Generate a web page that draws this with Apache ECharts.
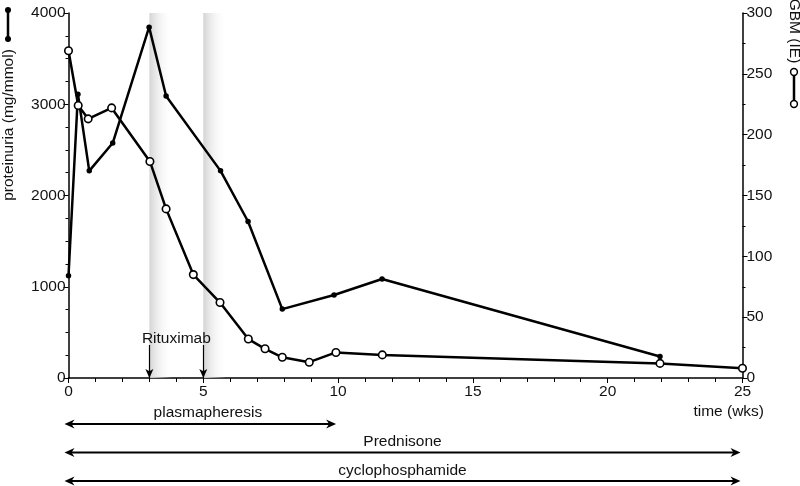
<!DOCTYPE html>
<html>
<head>
<meta charset="utf-8">
<script src="https://cdn.jsdelivr.net/npm/echarts@6/dist/echarts.min.js"></script>
<style>
  html, body { margin: 0; padding: 0; background: #fff; }
  #chart { width: 800px; height: 486px; }
</style>
</head>
<body>
<div id="chart"></div>
<script>
// proteinuria (mg/mmol), filled dots, left axis
const protWeeks = [0, 0.35, 0.77, 1.64, 2.99, 3.62, 5.64, 6.66, 7.93, 9.85, 11.63, 21.94]
const protValues = [1120, 3110, 2270, 2575, 3845, 3090, 2270, 1715, 755, 910, 1085, 235]

// GBM (IE), open circles, right axis
const gbmWeeks = [0, 0.36, 0.73, 1.6, 3.02, 3.62, 4.63, 5.62, 6.67, 7.29, 7.93, 8.93, 9.92, 11.64, 21.94, 25]
const gbmValues = [269, 224, 213, 222, 178, 139, 85, 62, 32, 24, 17, 13, 21, 19, 12, 8]

// rituximab doses (weeks), shaded after each dose
const rituximabWeeks = [3, 5]
const bandWidth = 0.85

// treatment periods (weeks)
const treatments = [
  { name: 'plasmapheresis', from: 0, to: 10 },
  { name: 'Prednisone', from: 0, to: 25 },
  { name: 'cyclophosphamide', from: 0, to: 25 }
]

const FONT = 'Liberation Sans'
const FS = 15.5

const chart = echarts.init(document.getElementById('chart'))

const axisCommon = {
  axisLine: { show: true, lineStyle: { color: '#000', width: 1.5 } },
  axisTick: { show: true, length: 5, lineStyle: { color: '#000', width: 1 } },
  axisLabel: { fontSize: FS, fontFamily: FONT, color: '#111', formatter: v => String(v) },
  splitLine: { show: false }
}

const option = {
  animation: false,
  backgroundColor: '#fff',
  grid: { left: 68.5, right: 57.5, top: 13, bottom: 108 },
  xAxis: {
    type: 'value', min: 0, max: 25, interval: 5,
    ...axisCommon,
    minorTick: { show: true, splitNumber: 5, length: 4, lineStyle: { color: '#000' } },
    axisLabel: { ...axisCommon.axisLabel, margin: 6 }
  },
  yAxis: [
    {
      type: 'value', min: 0, max: 4000, interval: 1000, position: 'left',
      ...axisCommon,
      minorTick: { show: true, splitNumber: 4, length: 3, lineStyle: { color: '#000' } },
      axisLabel: { ...axisCommon.axisLabel, margin: 3 }
    },
    {
      type: 'value', min: 0, max: 300, interval: 50, position: 'right',
      ...axisCommon,
      minorTick: { show: true, splitNumber: 2, length: 3, lineStyle: { color: '#000' } },
      axisLabel: { ...axisCommon.axisLabel, margin: 4 }
    }
  ],
  series: [
    {
      name: 'proteinuria',
      type: 'line',
      yAxisIndex: 0,
      data: protWeeks.map((w, i) => [w, protValues[i]]),
      symbol: 'circle',
      symbolSize: 5.5,
      showAllSymbol: true,
      lineStyle: { color: '#000', width: 2.5 },
      itemStyle: { color: '#000' },
      z: 3,
      markArea: {
        silent: true,
        itemStyle: {
          color: new echarts.graphic.LinearGradient(0, 0, 1, 0, [
            { offset: 0, color: 'rgba(212,212,212,1)' },
            { offset: 1, color: 'rgba(255,255,255,0)' }
          ])
        },
        data: rituximabWeeks.map(w => [{ xAxis: w }, { xAxis: w + bandWidth }])
      },
      markLine: {
        silent: true,
        symbol: ['none', 'arrow'],
        symbolSize: [6, 9],
        lineStyle: { color: '#000', width: 1.2, type: 'solid' },
        label: { show: false },
        data: rituximabWeeks.map(w => [{ coord: [w, 362] }, { coord: [w, 0] }])
      }
    },
    {
      name: 'GBM',
      type: 'line',
      yAxisIndex: 1,
      data: gbmWeeks.map((w, i) => [w, gbmValues[i]]),
      symbol: 'circle',
      symbolSize: 7.5,
      showAllSymbol: true,
      lineStyle: { color: '#000', width: 2.5 },
      itemStyle: { color: '#fff', borderColor: '#000', borderWidth: 1.6 },
      z: 4
    }
  ]
}

chart.setOption(option)

// annotations outside the plot, placed from the x scale
const px = w => chart.convertToPixel({ xAxisIndex: 0 }, w)

function arrowHead(x, y, dir) {
  // dir = -1 points left, 1 points right
  return {
    type: 'polygon',
    shape: { points: [[x, y], [x - dir * 10, y - 4.5], [x - dir * 7, y], [x - dir * 10, y + 4.5]] },
    style: { fill: '#000' }
  }
}

function label(text, x, y, extra) {
  return Object.assign({
    type: 'text', x, y, z: 100,
    style: { text, font: FS + 'px ' + FONT, fill: '#111', textAlign: 'center', textVerticalAlign: 'middle' }
  }, extra || {})
}

const rowY = [424, 452.5, 481]
const labelY = [413, 442, 471]
const graphics = []

treatments.forEach((t, i) => {
  const x1 = px(t.from) - 4
  const x2 = px(t.to) - 2
  graphics.push({
    type: 'line',
    shape: { x1: x1 + 4, y1: rowY[i], x2: x2 - 4, y2: rowY[i] },
    style: { stroke: '#000', lineWidth: 2 }
  })
  graphics.push(arrowHead(x1, rowY[i], -1))
  graphics.push(arrowHead(x2, rowY[i], 1))
  graphics.push(label(t.name, i === 0 ? px(5.17) : (x1 + x2) / 2, labelY[i]))
})

const timeLabel = label('time (wks)', 764, 412)
timeLabel.style.textAlign = 'right'
graphics.push(timeLabel)

graphics.push(label('Rituximab', (px(rituximabWeeks[0]) + px(rituximabWeeks[1])) / 2, 339))

// axis titles
graphics.push(label('proteinuria (mg/mmol)', 9, 125, { rotation: Math.PI / 2 }))
graphics.push(label('GBM (IE)', 794, 31, { rotation: -Math.PI / 2 }))

// legend keys
graphics.push({ type: 'line', shape: { x1: 8, y1: 10, x2: 8, y2: 39 }, style: { stroke: '#000', lineWidth: 2.5 } })
graphics.push({ type: 'circle', shape: { cx: 8, cy: 10, r: 3 }, style: { fill: '#000' } })
graphics.push({ type: 'circle', shape: { cx: 8, cy: 39, r: 3 }, style: { fill: '#000' } })
graphics.push({ type: 'line', shape: { x1: 794, y1: 72, x2: 794, y2: 104 }, style: { stroke: '#000', lineWidth: 2.5 } })
graphics.push({ type: 'circle', z: 10, shape: { cx: 794, cy: 72, r: 3.4 }, style: { fill: '#fff', stroke: '#000', lineWidth: 1.5 } })
graphics.push({ type: 'circle', z: 10, shape: { cx: 794, cy: 104, r: 3.4 }, style: { fill: '#fff', stroke: '#000', lineWidth: 1.5 } })

chart.setOption({ graphic: { elements: graphics } })
</script>
</body>
</html>
